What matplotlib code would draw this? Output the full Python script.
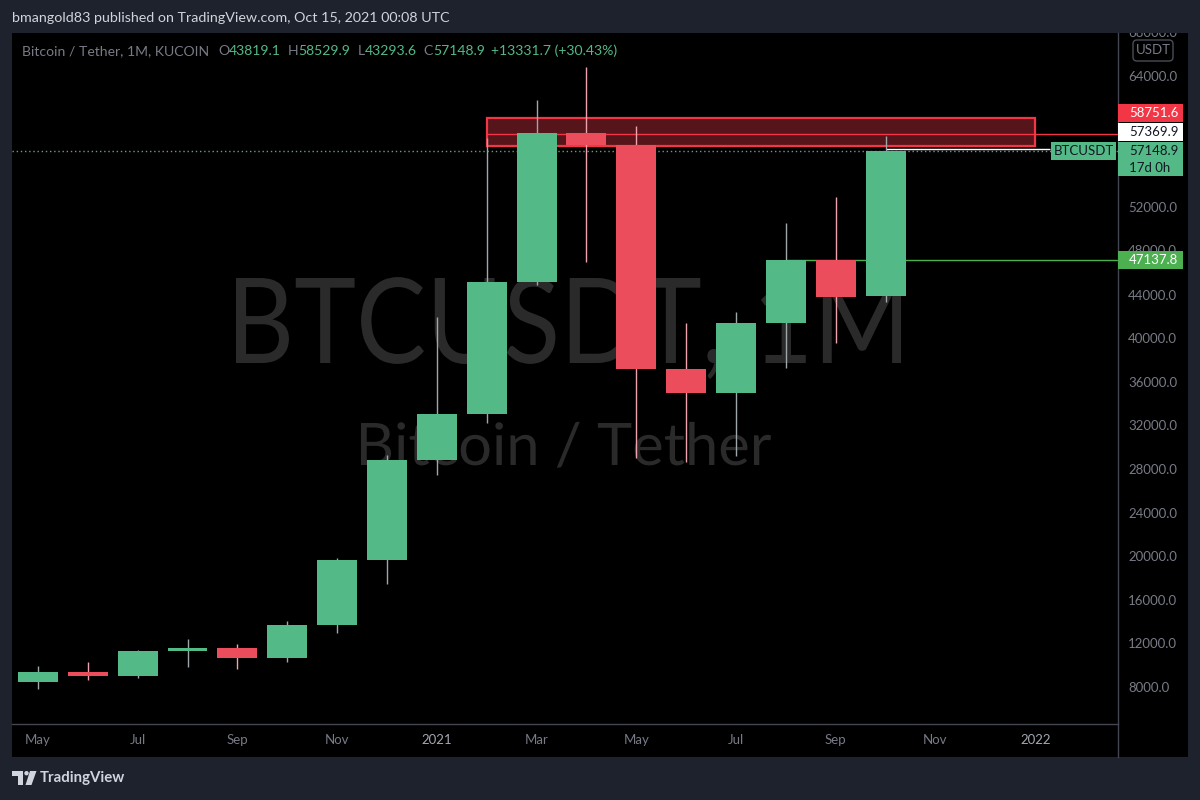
import matplotlib.pyplot as plt
import matplotlib.transforms as mtransforms
from matplotlib.patches import Rectangle, FancyBboxPatch, Polygon, Circle, PathPatch
from matplotlib.lines import Line2D
from matplotlib.textpath import TextPath
from matplotlib.font_manager import FontProperties

plt.rcParams["font.family"] = ["Lato", "DejaVu Sans"]

# monthly candles, May 2020 .. Oct 2021
months = ["2020-05", "2020-06", "2020-07", "2020-08", "2020-09", "2020-10",
          "2020-11", "2020-12", "2021-01", "2021-02", "2021-03", "2021-04",
          "2021-05", "2021-06", "2021-07", "2021-08", "2021-09", "2021-10"]
opens = [8450, 9370, 9030, 11270, 11570, 10630, 13680, 19640, 28820, 33040,
         45150, 58820, 57720, 37170, 34970, 41390, 47140, 43819.1]
highs = [9920, 10290, 11390, 12400, 11940, 14050, 19830, 29280, 41940, 58360,
         61840, 64870, 59460, 41390, 42400, 50560, 52950, 58529.9]
lows = [7810, 8630, 8790, 9830, 9670, 10290, 12970, 17440, 27440, 32210,
        44870, 46980, 29000, 28640, 29190, 37260, 39550, 43293.6]
closes = [9370, 9030, 11270, 11570, 10630, 13680, 19640, 28820, 33040, 45150,
          58820, 57720, 37170, 34970, 41390, 47140, 43817.2, 57148.9]

tick_pos = [0, 2, 4, 6, 8, 10, 12, 14, 16, 18, 20]
tick_labels = ["May", "Jul", "Sep", "Nov", "2021", "Mar", "May", "Jul", "Sep", "Nov", "2022"]
# 56000 / 60000 sit under the price tags on the axis
price_ticks = [8000, 12000, 16000, 20000, 24000, 28000, 32000, 36000,
               40000, 44000, 52000, 64000]

zone_lo, zone_hi = 57624, 60193
zone_start, zone_end = 9, 20
red_level = 58751.6
white_level = 57369.9
green_level = 47137.8

UP, DOWN = "#53b987", "#eb4d5c"
UP_WICK, DOWN_WICK = "#9ea7aa", "#f0a3ad"
GRAY = "#787b86"
WM = "#2a2a2a"
FS = 9.5

fig = plt.figure(figsize=(12, 8), dpi=100, facecolor="#1e222d")
PX = mtransforms.Affine2D().scale(1, -1).translate(0, 800)  # image pixels, y down

panel = Rectangle((12, 33), 1176, 724, transform=PX, facecolor="black",
                  edgecolor="none", zorder=-1)
fig.add_artist(panel)

ax = fig.add_axes([12 / 1200, 1 - 724 / 800, 1106 / 1200, 691 / 800])
ax.patch.set_visible(False)
ax.set_xlim(-0.52, 21.66)
ax.set_ylim(4600, 67990)
for s in ax.spines.values():
    s.set_visible(False)


def yimg(v):
    return 800 - ax.transData.transform((0, v))[1]


# watermark
def watermark(s, x0, x1, top, base):
    fp = FontProperties(family="Lato")
    tp = TextPath((0, 0), s, size=100, prop=fp)
    cap = TextPath((0, 0), "B", size=100, prop=fp).get_extents().y1
    ext = tp.get_extents()
    sx = (x1 - x0) / ext.width
    sy = (base - top) / cap
    tr = mtransforms.Affine2D().translate(-ext.x0, 0).scale(sx, -sy).translate(x0, base) + PX
    p = PathPatch(tp, transform=tr, facecolor=WM, edgecolor="none", zorder=0.5)
    ax.add_artist(p)


watermark("BTCUSDT, 1M", 236, 901, 278, 363)
watermark("Bitcoin / Tether", 361, 771, 423, 465)

# zone and levels
ax.add_patch(Rectangle((zone_start, zone_lo), zone_end - zone_start, zone_hi - zone_lo,
                       facecolor="#55151a", edgecolor="#f23645", lw=1.6, zorder=1))
ax.hlines(red_level, zone_start, 21.66, color="#f23645", lw=1, zorder=1.5)
ax.axhline(closes[-1], color="#6a9a8c", lw=1, ls=(0, (1, 2)), zorder=1.2)
ax.hlines(green_level, 15, 21.66, color="#4caf50", lw=1, zorder=1.5)
ax.hlines(white_level, 17, 20.3, color="white", lw=1, zorder=1.5)

# candles
x = list(range(len(months)))
up = [c >= o for o, c in zip(opens, closes)]
ax.vlines(x, lows, highs, colors=[UP_WICK if u else DOWN_WICK for u in up], lw=1, zorder=2)
ax.bar(x, [abs(c - o) for o, c in zip(opens, closes)],
       bottom=[min(o, c) for o, c in zip(opens, closes)], width=0.8,
       color=[UP if u else DOWN for u in up], zorder=3)

# axes ticks
ax.set_xticks(tick_pos, tick_labels)
ax.tick_params(axis="x", length=0, pad=7.5, labelsize=FS, labelcolor=GRAY)
for t in ax.get_xticklabels():
    if t.get_text().startswith("20"):
        t.set_color("#a3a6af")
ax.yaxis.tick_right()
ax.set_yticks(price_ticks, [f"{v:.1f}" for v in price_ticks])
ax.tick_params(axis="y", length=0, pad=7.2, labelsize=FS, labelcolor=GRAY)

# partly hidden labels: 68000 cut by the panel top, 48000 under the green tag
t68 = fig.text(1128, yimg(68000), "68000.0", transform=PX, color=GRAY, fontsize=FS, va="center")
t68.set_clip_path(panel)
yg = yimg(green_level)
clip48 = Rectangle((1118, 33), 70, yg - 9 - 33, transform=PX, facecolor="none", edgecolor="none")
t48 = fig.text(1128, yimg(48000), "48000.0", transform=PX, color=GRAY, fontsize=FS, va="center")
t48.set_clip_path(clip48)

# separators
fig.add_artist(Line2D([12, 1118], [724, 724], transform=PX, color="#434651", lw=1))
fig.add_artist(Line2D([1118, 1118], [33, 757], transform=PX, color="#434651", lw=1))


# price labels
def plabel(top, bottom, fc, lines, tc):
    fig.add_artist(Rectangle((1118, top), 65, bottom - top, transform=PX, facecolor=fc,
                             edgecolor="none", zorder=3))
    n = len(lines)
    h = (bottom - top) / n
    for k, s in enumerate(lines):
        fig.text(1129, top + h * (k + 0.5), s, transform=PX, color=tc, fontsize=FS,
                 va="center", zorder=4)


yc = yimg(closes[-1])
plabel(yc - 9, yc + 25, UP, [f"{closes[-1]:.1f}", "17d 0h"], "#131722")
plabel(yc - 28, yc - 10, "white", [f"{white_level:.1f}"], "#131722")
plabel(yc - 47, yc - 29, "#f23645", [f"{red_level:.1f}"], "white")
plabel(yg - 9, yg + 9, "#4caf50", [f"{green_level:.1f}"], "white")

fig.add_artist(Rectangle((1051, yc - 9), 65, 18, transform=PX, facecolor=UP, edgecolor="none", zorder=3))
fig.text(1083.5, yc, "BTCUSDT", transform=PX, color="#131722", fontsize=FS,
         ha="center", va="center", zorder=4)

fig.add_artist(FancyBboxPatch((1133, 40), 40, 21, boxstyle="round,pad=0,rounding_size=4",
                              transform=PX, facecolor="none", edgecolor="#4a4d57", lw=1, zorder=3))
fig.text(1153, 50.5, "USDT", transform=PX, color=GRAY, fontsize=FS, ha="center", va="center")

# header
fig.text(12, 18, "bmangold83 published on TradingView.com, Oct 15, 2021 00:08 UTC",
         transform=PX, color="#d1d4dc", fontsize=10.3, va="center")

# legend line
chg = closes[-1] - closes[-2]
pieces = [("Bitcoin / Tether, 1M, KUCOIN", GRAY, 9),
          ("O", GRAY, 0), (f"{opens[-1]:.1f}", UP, 7),
          ("H", GRAY, 0), (f"{highs[-1]:.1f}", UP, 7),
          ("L", GRAY, 0), (f"{lows[-1]:.1f}", UP, 7),
          ("C", GRAY, 0), (f"{closes[-1]:.1f}", UP, 6),
          (f"+{chg:.1f} (+{chg / closes[-2] * 100:.2f}%)", UP, 0)]
r = fig.canvas.get_renderer()
xx = 22
for s, c, gap in pieces:
    t = fig.text(xx, 51, s, transform=PX, color=c, fontsize=10.1, va="center")
    xx = t.get_window_extent(r).x1 + gap

# footer logo
LOGO = "#d1d4dc"
fig.add_artist(Polygon([(12, 771), (23, 771), (23, 785), (18, 785), (18, 775.5), (12, 775.5)],
                       closed=True, transform=PX, facecolor=LOGO, edgecolor="none"))
fig.add_artist(Circle((26.5, 773.2), 2.2, transform=PX, facecolor=LOGO, edgecolor="none"))
fig.add_artist(Polygon([(30, 771), (36.5, 771), (31.5, 785), (25.5, 785)],
                       closed=True, transform=PX, facecolor=LOGO, edgecolor="none"))
fig.text(40, 778, "TradingView", transform=PX, color=LOGO, fontsize=10.8,
         fontweight="bold", va="center")

fig.savefig("out.png", dpi=100, facecolor=fig.get_facecolor())
